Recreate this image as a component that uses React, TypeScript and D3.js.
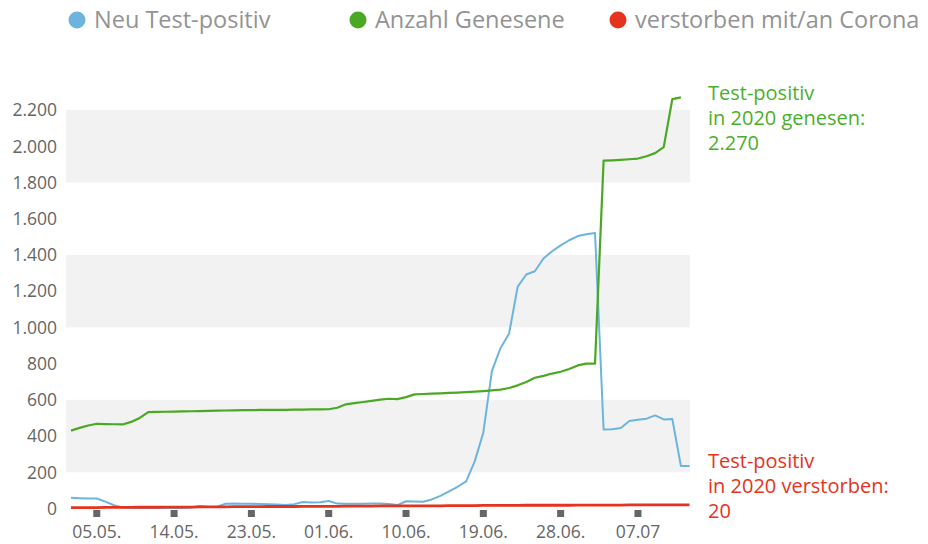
import React, { useEffect, useRef } from "react";
import * as d3 from "d3";

// daily values, 02.05. - 13.07.2020
const dates = [
  "2020-05-02", "2020-05-03", "2020-05-04", "2020-05-05", "2020-05-06", "2020-05-07", "2020-05-08", "2020-05-09",
  "2020-05-10", "2020-05-11", "2020-05-12", "2020-05-13", "2020-05-14", "2020-05-15", "2020-05-16", "2020-05-17",
  "2020-05-18", "2020-05-19", "2020-05-20", "2020-05-21", "2020-05-22", "2020-05-23", "2020-05-24", "2020-05-25",
  "2020-05-26", "2020-05-27", "2020-05-28", "2020-05-29", "2020-05-30", "2020-05-31", "2020-06-01", "2020-06-02",
  "2020-06-03", "2020-06-04", "2020-06-05", "2020-06-06", "2020-06-07", "2020-06-08", "2020-06-09", "2020-06-10",
  "2020-06-11", "2020-06-12", "2020-06-13", "2020-06-14", "2020-06-15", "2020-06-16", "2020-06-17", "2020-06-18",
  "2020-06-19", "2020-06-20", "2020-06-21", "2020-06-22", "2020-06-23", "2020-06-24", "2020-06-25", "2020-06-26",
  "2020-06-27", "2020-06-28", "2020-06-29", "2020-06-30", "2020-07-01", "2020-07-02", "2020-07-03", "2020-07-04",
  "2020-07-05", "2020-07-06", "2020-07-07", "2020-07-08", "2020-07-09", "2020-07-10", "2020-07-11", "2020-07-12",
  "2020-07-13",
];

const newPositive = [
  60, 57, 55, 55, 38, 18, 6, 4, 3, 3, 3, 3, 3, 3, 5, 14, 8, 10, 26, 27, 26, 26, 25, 24, 22, 20, 24, 36, 33, 35,
  41, 27, 26, 26, 26, 27, 27, 25, 19, 40, 38, 37, 50, 70, 95, 120, 150, 260, 420, 760, 885, 966, 1225, 1292, 1310,
  1380, 1420, 1453, 1481, 1504, 1514, 1521, 436, 438, 444, 483, 490, 496, 514, 492, 494, 234, 234,
];

const recovered = [
  430, 445, 458, 468, 466, 465, 464, 478, 500, 532, 533, 534, 535, 536, 537, 538, 539, 540, 541, 542, 543, 543,
  544, 544, 545, 545, 546, 546, 547, 547, 548, 556, 575, 582, 588, 594, 601, 606, 604, 615, 630, 632, 634, 636,
  638, 640, 642, 645, 648, 652, 656, 665, 680, 698, 722, 732, 745, 755, 770, 790, 800, 800, 1920, 1922, 1925,
  1928, 1932, 1945, 1962, 1995, 2260, 2270,
];

const deaths = [
  5, 5, 5, 5, 6, 6, 6, 6, 7, 7, 7, 8, 8, 8, 8, 9, 9, 9, 9, 10, 10, 10, 10, 11, 11, 11, 11, 12, 12, 12, 12, 12, 13,
  13, 13, 13, 14, 14, 14, 14, 15, 15, 15, 15, 16, 16, 16, 16, 17, 17, 17, 17, 17, 18, 18, 18, 18, 18, 18, 19, 19,
  19, 19, 19, 19, 20, 20, 20, 20, 20, 20, 20, 20,
];

const yTicks = [0, 200, 400, 600, 800, 1000, 1200, 1400, 1600, 1800, 2000, 2200];
const bands = [[200, 600], [1000, 1400], [1800, 2200]];
const xTickDates = ["2020-05-05", "2020-05-14", "2020-05-23", "2020-06-01", "2020-06-10", "2020-06-19", "2020-06-28", "2020-07-07"];
const xTickLabels = ["05.05.", "14.05.", "23.05.", "01.06.", "10.06.", "19.06.", "28.06.", "07.07"];
const legendNames = ["Neu Test-positiv", "Anzahl Genesene", "verstorben mit/an Corona"];
const colors = ["#6cb4de", "#4aa823", "#e6331d"];

const App = () => {
  const svgRef = useRef<SVGSVGElement>(null);

  useEffect(() => {
    const w = 928;
    const h = 544;
    const svg = d3.select(svgRef.current).attr("width", w).attr("height", h);
    svg.selectAll("*").remove();

    const parse = d3.timeParse("%Y-%m-%d");
    const de = d3.formatLocale({ decimal: ",", thousands: ".", grouping: [3], currency: ["", " €"] });
    const fmt = de.format(",");
    const font = "'Open Sans', sans-serif";

    const xScale = d3
      .scaleTime()
      .domain([parse(dates[0])!, parse(dates[dates.length - 1])!])
      .range([71, 689.5]);
    const yScale = d3.scaleLinear().domain([0, 2200]).range([508.5, 110]);

    // alternating bands
    svg
      .selectAll(".band")
      .data(bands)
      .join("rect")
      .attr("x", 66)
      .attr("width", 690 - 66)
      .attr("y", (d) => yScale(d[1]))
      .attr("height", (d) => yScale(d[0]) - yScale(d[1]))
      .attr("fill", "#f2f2f2");

    // y labels
    svg
      .selectAll(".ylab")
      .data(yTicks)
      .join("text")
      .attr("x", 57)
      .attr("y", (d) => yScale(d))
      .attr("dy", "0.36em")
      .attr("text-anchor", "end")
      .style("font-family", font)
      .style("font-size", "17.5px")
      .style("fill", "#666")
      .text((d) => fmt(d));

    // x ticks (small squares) and labels
    svg
      .selectAll(".xtick")
      .data(xTickDates)
      .join("rect")
      .attr("x", (d) => xScale(parse(d)!) - 3.5)
      .attr("y", 510)
      .attr("width", 7)
      .attr("height", 7)
      .attr("fill", "#666");

    svg
      .selectAll(".xlab")
      .data(xTickDates)
      .join("text")
      .attr("x", (d) => xScale(parse(d)!))
      .attr("y", 538)
      .attr("text-anchor", "middle")
      .style("font-family", font)
      .style("font-size", "17.5px")
      .style("fill", "#666")
      .text((d, i) => xTickLabels[i]);

    const line = d3
      .line<number>()
      .x((d, i) => xScale(parse(dates[i])!))
      .y((d) => yScale(d));

    const series = [newPositive, recovered, deaths];
    const widths = [2, 2.2, 2.8];
    series.forEach((s, i) => {
      svg
        .append("path")
        .attr("d", line(s))
        .attr("fill", "none")
        .attr("stroke", colors[i])
        .attr("stroke-width", widths[i])
        .attr("stroke-linejoin", "round");
    });

    // legend
    const legendX = [77, 358, 618];
    legendNames.forEach((name, i) => {
      svg.append("circle").attr("cx", legendX[i]).attr("cy", 20).attr("r", 8.5).attr("fill", colors[i]);
      svg
        .append("text")
        .attr("x", legendX[i] + 17)
        .attr("y", 20)
        .attr("dy", "0.36em")
        .style("font-family", font)
        .style("font-size", "23.5px")
        .style("fill", "#939393")
        .text(name);
    });

    // end annotations
    const notes = [
      { lines: ["Test-positiv", "in 2020 genesen:", fmt(recovered[recovered.length - 1])], y: 100, color: "#4caf2a" },
      { lines: ["Test-positiv", "in 2020 verstorben:", fmt(deaths[deaths.length - 1])], y: 468, color: "#e6331d" },
    ];
    notes.forEach((n) => {
      const t = svg
        .append("text")
        .attr("x", 708)
        .attr("y", n.y)
        .style("font-family", font)
        .style("font-size", "20px")
        .style("fill", n.color);
      n.lines.forEach((l, j) => {
        t.append("tspan").attr("x", 708).attr("y", n.y + j * 25).text(l);
      });
    });
  }, []);

  return (
    <svg ref={svgRef} style={{ position: "absolute", left: 0, top: 0, display: "block", background: "#fff" }}></svg>
  );
};

export default App;
